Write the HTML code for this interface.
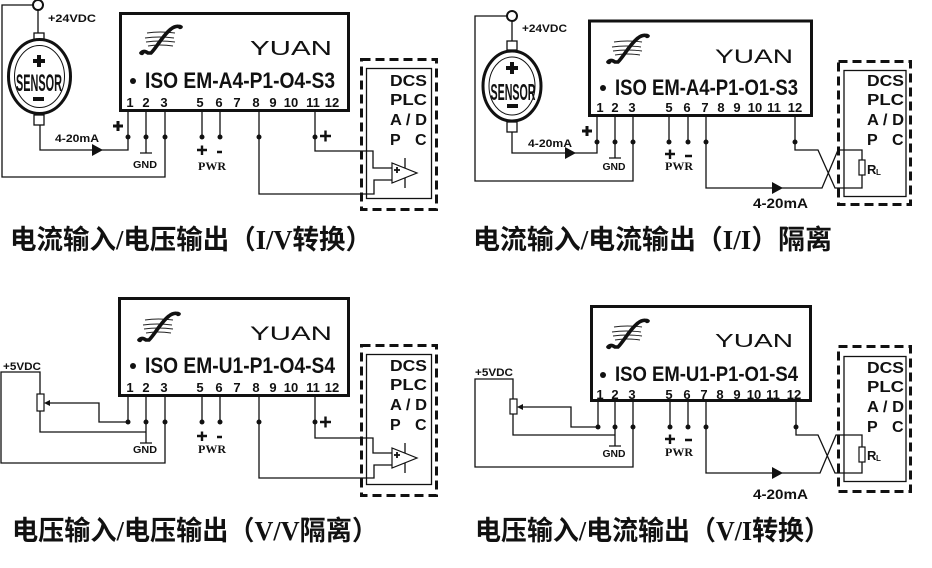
<!DOCTYPE html>
<html><head><meta charset="utf-8"><style>
html,body{margin:0;padding:0;background:#fff;}
svg{display:block;}
.w{fill:none;stroke:#111;stroke-width:1.3;}
.b{font-family:"Liberation Sans",sans-serif;font-weight:bold;fill:#111;}
.s{font-family:"Liberation Serif",serif;font-weight:bold;fill:#111;}
.y{font-family:"Liberation Sans",sans-serif;font-weight:normal;fill:#111;}
.c{font-family:"Liberation Serif","Noto Sans CJK SC",sans-serif;font-weight:bold;fill:#111;}
.box{fill:none;stroke:#111;stroke-width:3;}
.dash{fill:none;stroke:#111;stroke-width:3;stroke-dasharray:9 5;}
.pl{stroke:#111;stroke-width:3;fill:none;}
.pm{stroke:#111;stroke-width:2.4;fill:none;}
</style></head><body>
<svg width="932" height="568" viewBox="0 0 932 568" xmlns="http://www.w3.org/2000/svg">
<defs>
<g id="logo">
 <g stroke="#222" stroke-width="0.9" fill="none">
  <path d="M9 11 Q22 9 37 11"/>
  <path d="M7 16 Q21 14 36 16"/>
  <path d="M8 20 Q22 18 37 20"/>
  <path d="M10 24 Q22 22 35 24"/>
 </g>
 <path d="M3 31 Q6 28 10 31 L13 31 C19 25 25 13 33 7 Q38 3 43 5" stroke="#111" stroke-width="3.6" fill="none" stroke-linecap="round"/>
 <circle cx="4" cy="31" r="2.2" fill="#111"/>
 <circle cx="42" cy="5" r="2.2" fill="#111"/>
</g>
<g id="dcs">
 <text class="b" x="0" y="0" font-size="16" textLength="37" lengthAdjust="spacingAndGlyphs">DCS</text>
 <text class="b" x="0" y="19" font-size="16" textLength="37" lengthAdjust="spacingAndGlyphs">PLC</text>
 <text class="b" x="0" y="39" font-size="16" textLength="37" lengthAdjust="spacingAndGlyphs">A / D</text>
 <text class="b" x="0" y="59" font-size="16">P</text>
 <text class="b" x="25" y="59" font-size="16">C</text>
</g>
</defs>
<rect width="932" height="568" fill="#fff"/>

<!-- ================= PANEL 1 (top-left) ================= -->
<rect class="box" x="120.5" y="13.5" width="228" height="97"/>
<use href="#logo" transform="translate(138,22)"/>
<text class="y" x="250" y="55" font-size="20" textLength="82" lengthAdjust="spacingAndGlyphs">YUAN</text>
<circle cx="133" cy="81" r="3" fill="#111"/>
<text class="b" x="145" y="88" font-size="22" textLength="190" lengthAdjust="spacingAndGlyphs">ISO EM-A4-P1-O4-S3</text>
<g class="b" font-size="13" text-anchor="middle">
 <text x="130" y="107">1</text><text x="146" y="107">2</text><text x="164" y="107">3</text>
 <text x="200" y="107">5</text><text x="219" y="107">6</text><text x="237" y="107">7</text>
 <text x="256" y="107">8</text><text x="273" y="107">9</text><text x="291" y="107">10</text>
 <text x="313" y="107">11</text><text x="332" y="107">12</text>
</g>
<!-- wires -->
<path class="w" d="M128 112 V150 H40 V125"/>
<path class="w" d="M146 112 V153 M140 153 H152"/>
<path class="w" d="M165 112 V177 H2 V5 H33"/>
<path class="w" d="M202 112 V137 M220 112 V137"/>
<path class="w" d="M259 112 V194 H374 V180 H392"/>
<path class="w" d="M315 112 V151 H373 V168 H392"/>
<g fill="#111"><circle cx="128" cy="137" r="2.5"/><circle cx="146" cy="137" r="2.5"/><circle cx="165" cy="137" r="2.5"/><circle cx="202" cy="137" r="2.5"/><circle cx="220" cy="137" r="2.5"/><circle cx="259" cy="137" r="2.5"/><circle cx="315" cy="137" r="2.5"/></g>
<polygon points="92,144 103,150 92,156" fill="#111"/>
<text class="b" x="55" y="142" font-size="11" textLength="44" lengthAdjust="spacingAndGlyphs">4-20mA</text>
<path class="pl" d="M113 126 H123 M118 121 V131"/>
<text class="b" x="145" y="168" font-size="10" text-anchor="middle" textLength="24" lengthAdjust="spacingAndGlyphs">GND</text>
<path class="pm" d="M197 150 H207 M202 145.5 V155 M217 152 H222"/>
<text class="s" x="212" y="170" font-size="12" text-anchor="middle" textLength="28" lengthAdjust="spacingAndGlyphs">PWR</text>
<path class="pm" d="M320 136 H331 M325.5 130.5 V141.5"/>
<!-- sensor -->
<circle cx="38" cy="5" r="5" fill="#fff" stroke="#111" stroke-width="2"/>
<path class="w" d="M38 10 V33"/>
<rect x="34" y="33" width="10" height="7" fill="#fff" stroke="#111" stroke-width="1.3"/>
<ellipse cx="39.5" cy="76.5" rx="31" ry="37" fill="#fff" stroke="#111" stroke-width="3"/>
<ellipse cx="39.5" cy="76.5" rx="25" ry="31" fill="none" stroke="#111" stroke-width="1"/>
<rect x="34" y="115" width="10" height="10" fill="#fff" stroke="#111" stroke-width="1.3"/>
<path d="M33 61 H45 M39 55 V67" stroke="#111" stroke-width="4" fill="none"/>
<text class="b" x="39" y="91" font-size="24" text-anchor="middle" textLength="46" lengthAdjust="spacingAndGlyphs">SENSOR</text>
<rect x="33" y="97" width="11" height="4" fill="#111"/>
<text class="b" x="48" y="22" font-size="11" textLength="48" lengthAdjust="spacingAndGlyphs">+24VDC</text>
<!-- DCS -->
<rect class="dash" x="361.5" y="59.5" width="75" height="150"/>
<rect class="w" x="366.5" y="68.5" width="65" height="130"/>
<use href="#dcs" transform="translate(390,86)"/>
<polygon points="392,163 392,183 417,173" fill="#fff" stroke="#111" stroke-width="1.2"/>
<path class="w" d="M405 158 V168 M405 178 V188"/>
<path d="M394 170 H400 M397 167 V173" stroke="#111" stroke-width="1.8"/>

<!-- ================= PANEL 2 (top-right) ================= -->
<rect class="box" x="589.5" y="21" width="222" height="94.5"/>
<use href="#logo" transform="translate(605,31)"/>
<text class="y" x="715" y="63" font-size="19" textLength="78" lengthAdjust="spacingAndGlyphs">YUAN</text>
<circle cx="603" cy="88" r="3" fill="#111"/>
<text class="b" x="615" y="95" font-size="22" textLength="183" lengthAdjust="spacingAndGlyphs">ISO EM-A4-P1-O1-S3</text>
<g class="b" font-size="13" text-anchor="middle">
 <text x="600" y="112">1</text><text x="615" y="112">2</text><text x="632" y="112">3</text>
 <text x="669" y="112">5</text><text x="687" y="112">6</text><text x="705" y="112">7</text>
 <text x="721" y="112">8</text><text x="737" y="112">9</text><text x="755" y="112">10</text>
 <text x="774" y="112">11</text><text x="795" y="112">12</text>
</g>
<path class="w" d="M597 117 V153 H512 V132"/>
<path class="w" d="M615 117 V158 M609 158 H621"/>
<path class="w" d="M633 117 V181 H475 V16 H507"/>
<path class="w" d="M669 117 V142 M688 117 V142"/>
<path class="w" d="M706 117 V188 H822 L838 150 H862 V160 M862 175 V188 H835 L818 150 H795 V117"/>
<rect x="859" y="160" width="6" height="15" fill="#fff" stroke="#111" stroke-width="1.2"/>
<g fill="#111"><circle cx="597" cy="142" r="2.5"/><circle cx="615" cy="142" r="2.5"/><circle cx="633" cy="142" r="2.5"/><circle cx="669" cy="142" r="2.5"/><circle cx="688" cy="142" r="2.5"/><circle cx="706" cy="142" r="2.5"/><circle cx="795" cy="142" r="2.5"/></g>
<polygon points="565,147 576,153 565,159" fill="#111"/>
<text class="b" x="528" y="147" font-size="11" textLength="44" lengthAdjust="spacingAndGlyphs">4-20mA</text>
<path class="pl" d="M582 131 H592 M587 126 V136"/>
<text class="b" x="614" y="170" font-size="10" text-anchor="middle" textLength="23" lengthAdjust="spacingAndGlyphs">GND</text>
<path class="pm" d="M665 154 H675 M670 149.5 V159 M685 156 H692"/>
<text class="s" x="679" y="170" font-size="12" text-anchor="middle" textLength="28" lengthAdjust="spacingAndGlyphs">PWR</text>
<polygon points="772,182 783,188 772,194" fill="#111"/>
<text class="b" x="753" y="208" font-size="14" textLength="55" lengthAdjust="spacingAndGlyphs">4-20mA</text>
<text class="b" x="867" y="174" font-size="13">R</text><text class="b" x="876" y="175" font-size="8">L</text>
<circle cx="512" cy="16" r="5" fill="#fff" stroke="#111" stroke-width="2"/>
<path class="w" d="M512 21 V41"/>
<rect x="507" y="41" width="10" height="9" fill="#fff" stroke="#111" stroke-width="1.3"/>
<ellipse cx="512" cy="86" rx="29" ry="35" fill="#fff" stroke="#111" stroke-width="3"/>
<ellipse cx="512" cy="86" rx="23" ry="29" fill="none" stroke="#111" stroke-width="1"/>
<rect x="507" y="122" width="10" height="10" fill="#fff" stroke="#111" stroke-width="1.3"/>
<path d="M506 68 H518 M512 62 V74" stroke="#111" stroke-width="4" fill="none"/>
<text class="b" x="513" y="100" font-size="23" text-anchor="middle" textLength="45" lengthAdjust="spacingAndGlyphs">SENSOR</text>
<rect x="507" y="104" width="11" height="4" fill="#111"/>
<text class="b" x="522" y="32" font-size="11" textLength="45" lengthAdjust="spacingAndGlyphs">+24VDC</text>
<rect class="dash" x="838.5" y="61.5" width="72" height="143"/>
<rect class="w" x="844" y="70.5" width="62" height="126"/>
<use href="#dcs" transform="translate(867,86)"/>

<!-- ================= PANEL 3 (bottom-left) ================= -->
<rect class="box" x="119.5" y="298.5" width="229" height="97"/>
<use href="#logo" transform="translate(136,309)"/>
<text class="y" x="250" y="340" font-size="19" textLength="82" lengthAdjust="spacingAndGlyphs">YUAN</text>
<circle cx="133" cy="366" r="3" fill="#111"/>
<text class="b" x="145" y="373" font-size="22" textLength="190" lengthAdjust="spacingAndGlyphs">ISO EM-U1-P1-O4-S4</text>
<g class="b" font-size="13" text-anchor="middle">
 <text x="130" y="392">1</text><text x="146" y="392">2</text><text x="164" y="392">3</text>
 <text x="200" y="392">5</text><text x="219" y="392">6</text><text x="237" y="392">7</text>
 <text x="256" y="392">8</text><text x="273" y="392">9</text><text x="291" y="392">10</text>
 <text x="313" y="392">11</text><text x="332" y="392">12</text>
</g>
<text class="b" x="3" y="370" font-size="11" textLength="38" lengthAdjust="spacingAndGlyphs">+5VDC</text>
<path class="w" d="M40 394 V372 H1 V463 H165 V397"/>
<rect x="37" y="394" width="7" height="17" fill="#fff" stroke="#111" stroke-width="1.2"/>
<path class="w" d="M40 411 V432 H146"/>
<polygon points="44,403 50,400 50,406" fill="#111"/>
<path class="w" d="M50 403 H99 V422 H128 V397"/>
<path class="w" d="M146 397 V443 M140 443 H152"/>
<path class="w" d="M202 397 V422 M220 397 V422"/>
<path class="w" d="M259 397 V478 H374 V465 H392"/>
<path class="w" d="M315 397 V438 H373 V453 H392"/>
<g fill="#111"><circle cx="128" cy="422" r="2.5"/><circle cx="146" cy="422" r="2.5"/><circle cx="165" cy="422" r="2.5"/><circle cx="202" cy="422" r="2.5"/><circle cx="220" cy="422" r="2.5"/><circle cx="259" cy="422" r="2.5"/><circle cx="315" cy="422" r="2.5"/></g>
<text class="b" x="145" y="453" font-size="10" text-anchor="middle" textLength="24" lengthAdjust="spacingAndGlyphs">GND</text>
<path class="pm" d="M197 436 H207 M202 431.5 V441 M217 437 H222"/>
<text class="s" x="212" y="453" font-size="12" text-anchor="middle" textLength="28" lengthAdjust="spacingAndGlyphs">PWR</text>
<path class="pm" d="M320 422 H331 M325.5 416.5 V427.5"/>
<rect class="dash" x="361.5" y="345.5" width="75" height="150"/>
<rect class="w" x="366.5" y="354.5" width="65" height="130"/>
<use href="#dcs" transform="translate(390,371)"/>
<polygon points="392,448 392,468 417,458" fill="#fff" stroke="#111" stroke-width="1.2"/>
<path class="w" d="M405 443 V453 M405 463 V473"/>
<path d="M394 455 H400 M397 452 V458" stroke="#111" stroke-width="1.8"/>

<!-- ================= PANEL 4 (bottom-right) ================= -->
<rect class="box" x="591.5" y="306.5" width="219" height="94"/>
<use href="#logo" transform="translate(605,316)"/>
<text class="y" x="715" y="347" font-size="18" textLength="78" lengthAdjust="spacingAndGlyphs">YUAN</text>
<circle cx="603" cy="375" r="3" fill="#111"/>
<text class="b" x="615" y="381" font-size="21" textLength="183" lengthAdjust="spacingAndGlyphs">ISO EM-U1-P1-O1-S4</text>
<g class="b" font-size="13" text-anchor="middle">
 <text x="600" y="399">1</text><text x="615" y="399">2</text><text x="632" y="399">3</text>
 <text x="669" y="399">5</text><text x="687" y="399">6</text><text x="704" y="399">7</text>
 <text x="720" y="399">8</text><text x="737" y="399">9</text><text x="754" y="399">10</text>
 <text x="773" y="399">11</text><text x="794" y="399">12</text>
</g>
<text class="b" x="475" y="376" font-size="11" textLength="38" lengthAdjust="spacingAndGlyphs">+5VDC</text>
<path class="w" d="M513 399 V379 H475 V467 H633 V402"/>
<rect x="510" y="399" width="7" height="15" fill="#fff" stroke="#111" stroke-width="1.2"/>
<path class="w" d="M513 414 V435 H615"/>
<polygon points="517,407 523,404 523,410" fill="#111"/>
<path class="w" d="M523 407 H571 V427 H598 V402"/>
<path class="w" d="M615 402 V446 M609 446 H621"/>
<path class="w" d="M670 402 V427 M688 402 V427"/>
<path class="w" d="M706 402 V473 H820 L836 435 H862 V447 M862 462 V473 H835 L818 435 H796 V402"/>
<rect x="859" y="447" width="6" height="15" fill="#fff" stroke="#111" stroke-width="1.2"/>
<g fill="#111"><circle cx="598" cy="427" r="2.5"/><circle cx="615" cy="427" r="2.5"/><circle cx="633" cy="427" r="2.5"/><circle cx="670" cy="427" r="2.5"/><circle cx="688" cy="427" r="2.5"/><circle cx="706" cy="427" r="2.5"/><circle cx="796" cy="427" r="2.5"/></g>
<text class="b" x="614" y="457" font-size="10" text-anchor="middle" textLength="23" lengthAdjust="spacingAndGlyphs">GND</text>
<path class="pm" d="M665 439 H675 M670 434.5 V444 M685 440 H692"/>
<text class="s" x="679" y="456" font-size="12" text-anchor="middle" textLength="28" lengthAdjust="spacingAndGlyphs">PWR</text>
<polygon points="772,467 783,473 772,479" fill="#111"/>
<text class="b" x="753" y="499" font-size="14" textLength="55" lengthAdjust="spacingAndGlyphs">4-20mA</text>
<text class="b" x="867" y="460" font-size="13">R</text><text class="b" x="876" y="461" font-size="8">L</text>
<rect class="dash" x="838.5" y="346.5" width="72" height="145"/>
<rect class="w" x="844" y="356.5" width="62" height="125"/>
<use href="#dcs" transform="translate(867,373)"/>

<!-- ================= CAPTIONS ================= -->
<text class="c" x="10" y="249" font-size="27" textLength="362" lengthAdjust="spacingAndGlyphs">电流输入/电压输出（I/V转换）</text>
<text class="c" x="473" y="249" font-size="27" textLength="359" lengthAdjust="spacingAndGlyphs">电流输入/电流输出（I/I）隔离</text>
<text class="c" x="12" y="540" font-size="27" textLength="366" lengthAdjust="spacingAndGlyphs">电压输入/电压输出（V/V隔离）</text>
<text class="c" x="475" y="540" font-size="27" textLength="355" lengthAdjust="spacingAndGlyphs">电压输入/电流输出（V/I转换）</text>
</svg>
</body></html>
